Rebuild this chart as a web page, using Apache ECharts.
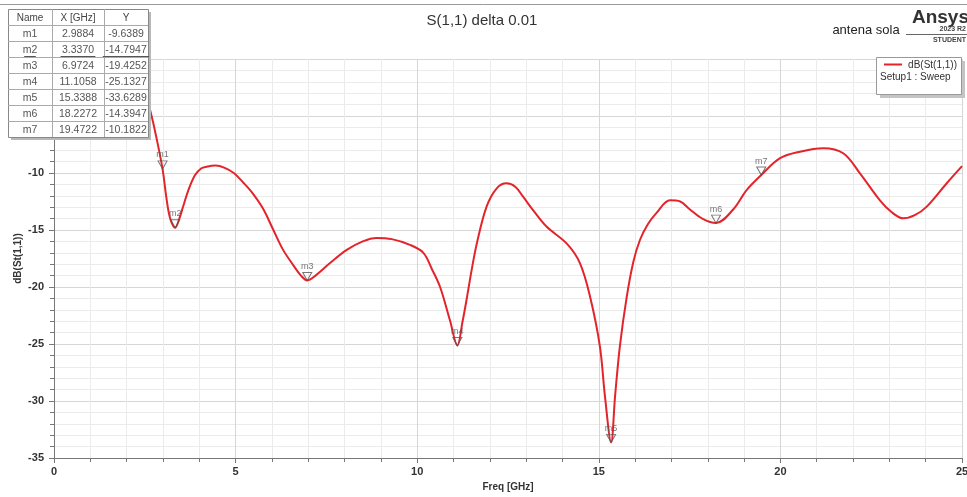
<!DOCTYPE html>
<html><head><meta charset="utf-8">
<script src="https://cdn.jsdelivr.net/npm/echarts@6/dist/echarts.min.js"></script>
<style>html,body{margin:0;padding:0;background:#fff}#c{width:967px;height:497px}</style>
</head><body><div id="c"></div>
<script>
// ---- data ----
const freq = [2.4, 2.64, 2.8, 2.9884, 3.1, 3.2, 3.337, 3.45, 3.56, 3.7, 3.88, 4.05, 4.2, 4.45, 4.7, 4.95, 5.2, 5.45, 5.75, 6.04, 6.3, 6.59, 6.8, 6.9724, 7.2, 7.6, 8.06, 8.5, 8.88, 9.3, 9.8, 10.17, 10.4, 10.63, 10.9, 11.1058, 11.25, 11.36, 11.5, 11.64, 11.91, 12.19, 12.46, 12.7, 12.92, 13.2, 13.56, 14.12, 14.48, 14.76, 15.03, 15.17, 15.3388, 15.45, 15.58, 15.77, 15.95, 16.13, 16.35, 16.59, 16.96, 17.24, 17.51, 17.85, 18.2272, 18.7, 19.07, 19.4722, 19.99, 20.54, 21.18, 21.73, 22.19, 22.74, 23.05, 23.38, 23.7, 24.03, 24.58, 25];
const s11 = [-2.0, -4.4, -6.6, -9.6389, -12.3, -14.0, -14.7947, -14.0, -12.9, -11.5, -10.2, -9.6, -9.45, -9.35, -9.55, -10.0, -10.8, -11.7, -13.1, -15.0, -16.7, -18.1, -19.0, -19.4252, -19.0, -17.9, -16.75, -16.0, -15.7, -15.8, -16.3, -17.0, -18.4, -20.0, -22.9, -25.1327, -23.0, -21.1, -18.5, -16.2, -12.95, -11.34, -10.9, -11.2, -12.1, -13.3, -14.7, -16.2, -17.9, -20.85, -25.2, -29.6, -33.6289, -29.5, -25.2, -20.85, -17.8, -15.9, -14.5, -13.5, -12.4, -12.5, -13.2, -14.0, -14.3947, -13.2, -11.5, -10.1822, -8.7, -8.13, -7.83, -8.27, -10.03, -12.4, -13.4, -13.98, -13.7, -12.95, -10.9, -9.4];
const markerNames = ['m1', 'm2', 'm3', 'm4', 'm5', 'm6', 'm7'];
const markerX = [2.9884, 3.3370, 6.9724, 11.1058, 15.3388, 18.2272, 19.4722];
const markerY = [-9.6389, -14.7947, -19.4252, -25.1327, -33.6289, -14.3947, -10.1822];
const tableHeader = ['Name', 'X [GHz]', 'Y'];
const selectedMarker = 'm2';
const titleText = 'S(1,1) delta 0.01';
const projectText = 'antena sola';
const legendName = 'dB(St(1,1))';
const legendSetup = 'Setup1 : Sweep';
const xName = 'Freq [GHz]';
const yName = 'dB(St(1,1))';

// ---- chart ----
const chart = echarts.init(document.getElementById('c'), null, {renderer: 'canvas'});
const FONT = 'Liberation Sans, Arial, sans-serif';
const TOP = {z: 100, zlevel: 1};

// Marker table graphics
const tX = 8, tY = 9, colW = [44, 52, 44], rowH = 16;
const tW = colW.reduce((a, b) => a + b, 0), tH = rowH * (markerNames.length + 1);
const graphics = [];
graphics.push({type: 'line', shape: {x1: 0, y1: 4.5, x2: 967, y2: 4.5}, style: {stroke: '#999', lineWidth: 1}, ...TOP});
graphics.push({type: 'rect', shape: {x: tX + 3, y: tY + 3, width: tW, height: tH}, style: {fill: '#b8b8b8'}, ...TOP});
graphics.push({type: 'rect', shape: {x: tX + 0.5, y: tY + 0.5, width: tW, height: tH}, style: {fill: '#fff', stroke: '#888', lineWidth: 1}, ...TOP});
let cx = tX;
for (let c = 0; c < 3; c++) {
  if (c > 0) graphics.push({type: 'line', shape: {x1: cx + 0.5, y1: tY, x2: cx + 0.5, y2: tY + tH}, style: {stroke: '#aaa', lineWidth: 1}, ...TOP});
  graphics.push({type: 'text', x: cx + colW[c] / 2, y: tY + rowH / 2 + 1, style: {text: tableHeader[c], font: '10px ' + FONT, fill: '#444', align: 'center', verticalAlign: 'middle'}, ...TOP});
  cx += colW[c];
}
for (let r = 0; r < markerNames.length; r++) {
  const yy = tY + rowH * (r + 1);
  graphics.push({type: 'line', shape: {x1: tX, y1: yy + 0.5, x2: tX + tW, y2: yy + 0.5}, style: {stroke: '#aaa', lineWidth: 1}, ...TOP});
  const vals = [markerNames[r], markerX[r].toFixed(4), markerY[r].toFixed(4)];
  let x0 = tX;
  for (let c = 0; c < 3; c++) {
    graphics.push({type: 'text', x: x0 + colW[c] / 2, y: yy + rowH / 2 + 1, style: {text: vals[c], font: '10.5px ' + FONT, fill: '#555', align: 'center', verticalAlign: 'middle'}, ...TOP});
    if (markerNames[r] === selectedMarker) {
      const w = vals[c].length * 5.8;
      graphics.push({type: 'line', shape: {x1: x0 + colW[c] / 2 - w / 2, y1: yy + rowH / 2 + 7.5, x2: x0 + colW[c] / 2 + w / 2, y2: yy + rowH / 2 + 7.5}, style: {stroke: '#555', lineWidth: 1}, ...TOP});
    }
    x0 += colW[c];
  }
}
graphics.push(
  {type: 'text', x: 866, y: 30, style: {text: projectText, font: '13px ' + FONT, fill: '#222', align: 'center', verticalAlign: 'middle'}, ...TOP},
  {type: 'text', x: 969, y: 18, style: {text: 'Ansys', font: 'bold 19px ' + FONT, fill: '#333', align: 'right', verticalAlign: 'middle'}, ...TOP},
  {type: 'text', x: 966, y: 29, style: {text: '2023 R2', font: 'bold 7px ' + FONT, fill: '#444', align: 'right', verticalAlign: 'middle'}, ...TOP},
  {type: 'line', shape: {x1: 906, y1: 34.5, x2: 967, y2: 34.5}, style: {stroke: '#666', lineWidth: 1}, ...TOP},
  {type: 'text', x: 966, y: 40, style: {text: 'STUDENT', font: 'bold 7px ' + FONT, fill: '#444', align: 'right', verticalAlign: 'middle'}, ...TOP},
  {type: 'rect', shape: {x: 880, y: 61, width: 85, height: 37}, style: {fill: '#c4c4c4'}, ...TOP},
  {type: 'rect', shape: {x: 876.5, y: 57.5, width: 85, height: 37}, style: {fill: '#fff', stroke: '#999', lineWidth: 1}, ...TOP},
  {type: 'line', shape: {x1: 884, y1: 64.5, x2: 902, y2: 64.5}, style: {stroke: '#e3242b', lineWidth: 2}, ...TOP},
  {type: 'text', x: 957, y: 65, style: {text: legendName, font: '10px ' + FONT, fill: '#333', align: 'right', verticalAlign: 'middle'}, ...TOP},
  {type: 'text', x: 880, y: 77, style: {text: legendSetup, font: '10px ' + FONT, fill: '#333', align: 'left', verticalAlign: 'middle'}, ...TOP}
);

const axisCommon = {
  axisLine: {show: true, onZero: false, lineStyle: {color: '#777', width: 1}},
  axisTick: {show: true, inside: false, length: 5, lineStyle: {color: '#777'}},
  minorTick: {show: true, splitNumber: 5, length: 4, lineStyle: {color: '#777'}},
  splitLine: {show: true, lineStyle: {color: '#d6d6d6', width: 1}},
  minorSplitLine: {show: true, lineStyle: {color: '#ebebeb', width: 1}},
  nameMoveOverlap: false
};

const option = {
  backgroundColor: '#fff',
  animation: false,
  title: {text: titleText, left: 477, top: 8, textAlign: 'center', textStyle: {fontFamily: FONT, fontSize: 15, fontWeight: 'normal', color: '#333'}},
  grid: {left: 54, right: 5, top: 59, bottom: 39, containLabel: false, outerBoundsMode: 'none'},
  xAxis: Object.assign({
    type: 'value', min: 0, max: 25, interval: 5,
    name: xName, nameLocation: 'middle', nameGap: 24,
    nameTextStyle: {fontFamily: FONT, fontSize: 10, fontWeight: 'bold', color: '#333'},
    axisLabel: {fontFamily: FONT, fontSize: 11, fontWeight: 'bold', color: '#333', margin: 8}
  }, axisCommon),
  yAxis: Object.assign({
    type: 'value', min: -35, max: 0, interval: 5,
    name: yName, nameLocation: 'middle', nameGap: 31, nameRotate: 90,
    nameTextStyle: {fontFamily: FONT, fontSize: 10, fontWeight: 'bold', color: '#333'},
    axisLabel: {fontFamily: FONT, fontSize: 11, fontWeight: 'bold', color: '#333', margin: 10}
  }, axisCommon),
  series: [
    {
      type: 'line', name: legendName,
      data: freq.map((f, i) => [f, s11[i]]),
      smooth: 0.35, showSymbol: false, symbol: 'none',
      lineStyle: {color: '#e3242b', width: 2},
      z: 3
    },
    {
      type: 'scatter',
      data: markerX.map((x, i) => ({value: [x, markerY[i]], name: markerNames[i]})),
      symbol: 'triangle', symbolRotate: 180, symbolSize: [9, 8], symbolOffset: [0, -4],
      itemStyle: {color: 'rgba(255,255,255,0)', borderColor: '#555', borderWidth: 1},
      label: {show: true, position: 'top', distance: 1, formatter: p => p.name, fontFamily: FONT, fontSize: 9, color: '#555'},
      z: 4
    }
  ],
  graphic: {elements: graphics}
};
chart.setOption(option);
</script>
</body></html>
